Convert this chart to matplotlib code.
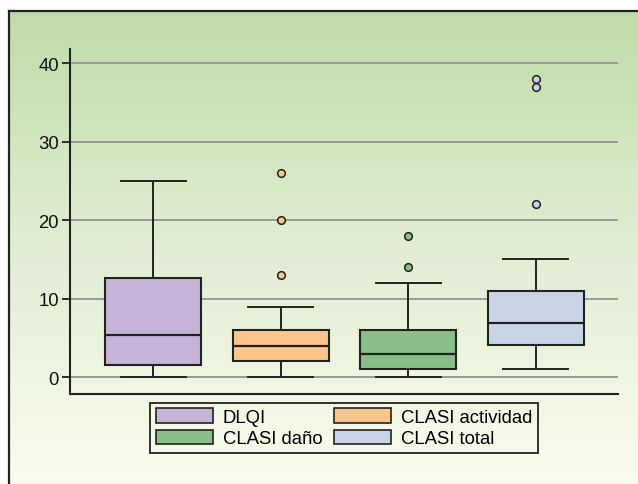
import matplotlib
matplotlib.use("Agg")
import matplotlib.pyplot as plt
import numpy as np
from matplotlib.patches import Rectangle, Patch

plt.rcParams['font.family'] = ['Liberation Sans', 'DejaVu Sans']

labels = ["DLQI", "CLASI actividad", "CLASI daño", "CLASI total"]
whislo = [0, 0, 0, 1]
q1 = [1.5, 2.1, 1.1, 4.1]
med = [5.4, 4.0, 3.0, 6.9]
q3 = [12.6, 6.0, 6.0, 11.0]
whishi = [25, 9, 12, 15]
fliers = [[], [26, 20, 13], [18, 14], [38, 37, 22]]
colors = ["#c6b4d8", "#fec58a", "#88bf88", "#c8d4e6"]
yticks = [0, 10, 20, 30, 40]

fig = plt.figure(figsize=(6.38, 4.85), dpi=100)

# background gradient
bg = fig.add_axes([0, 0, 1, 1], zorder=-10)
top = np.array([189, 219, 166]) / 255
mid = np.array([224, 237, 210]) / 255
bot = np.array([250, 252, 238]) / 255
n = 256
t = np.linspace(0, 1, n)[:, None]
grad = np.where(t < 0.5, top + (mid - top) * (t / 0.5), mid + (bot - mid) * ((t - 0.5) / 0.5))
bg.imshow(grad[:, None, :], aspect='auto', extent=[0, 1, 0, 1], origin='upper')
bg.set_xlim(0, 1)
bg.set_ylim(0, 1)
bg.axis('off')
# white strip above frame, and frame
bg.add_patch(Rectangle((0, 1 - 12 / 485), 1, 12 / 485, facecolor='white', edgecolor='none'))
bg.add_patch(Rectangle((0, 0), 9 / 638, 1, facecolor='white', edgecolor='none'))
bg.plot([9 / 638, 9 / 638], [0, 1 - 12 / 485], color='#222222', lw=1.6)
bg.plot([9 / 638, 1], [1 - 12 / 485, 1 - 12 / 485], color='#222222', lw=1.6)

ax = fig.add_axes([70 / 638, 1 - 394.7 / 485, 548 / 638, (394.7 - 50) / 485])
ax.patch.set_alpha(0)

stats = []
for i in range(4):
    stats.append(dict(whislo=whislo[i], q1=q1[i], med=med[i], q3=q3[i],
                      whishi=whishi[i], fliers=fliers[i], label=labels[i]))

positions = [1, 2, 3, 4]
bp = ax.bxp(stats, positions=positions, widths=0.753, capwidths=0.51,
            patch_artist=True, manage_ticks=False,
            boxprops=dict(edgecolor='#222222', linewidth=1.5),
            medianprops=dict(color='#222222', linewidth=1.6),
            whiskerprops=dict(color='#222222', linewidth=1.4),
            capprops=dict(color='#222222', linewidth=1.4),
            flierprops=dict(marker='o', markersize=5.5, markeredgecolor='#222222',
                            markeredgewidth=1.1))
for i, b in enumerate(bp['boxes']):
    b.set_facecolor(colors[i])
for i, f in enumerate(bp['fliers']):
    f.set_markerfacecolor(colors[i])

for art in bp['boxes'] + bp['medians'] + bp['whiskers'] + bp['caps'] + bp['fliers']:
    art.set_zorder(3)

ax.set_xlim(0.345, 4.646)
ax.set_ylim(-2.1, 41.8)
ax.set_yticks(yticks)
ax.set_yticklabels([str(v) for v in yticks], fontsize=13.3)
ax.set_xticks([])
ax.yaxis.grid(True, color='#999999', linewidth=1.4, zorder=0)
ax.set_axisbelow(True)
for s in ['top', 'right']:
    ax.spines[s].set_visible(False)
for s in ['left', 'bottom']:
    ax.spines[s].set_linewidth(1.5)
    ax.spines[s].set_color('#222222')
ax.tick_params(axis='y', length=6, width=1.3, color='#222222', pad=2, labelcolor='#111111')

handles = [Patch(facecolor=colors[i], edgecolor='#222222', linewidth=1.2, label=labels[i]) for i in range(4)]
order = [0, 2, 1, 3]
leg = ax.legend([handles[i] for i in order], [labels[i] for i in order], ncol=2,
                loc='upper center', bbox_to_anchor=(0.5, 0.0), fontsize=13.3,
                frameon=True, fancybox=False, edgecolor='#222222', facecolor='none',
                framealpha=1, handlelength=3.1, handleheight=0.8, handletextpad=0.55,
                columnspacing=0.6, labelspacing=0.2, borderpad=0.3)
leg.get_frame().set_linewidth(1.3)

fig.savefig("out.png", dpi=100)
